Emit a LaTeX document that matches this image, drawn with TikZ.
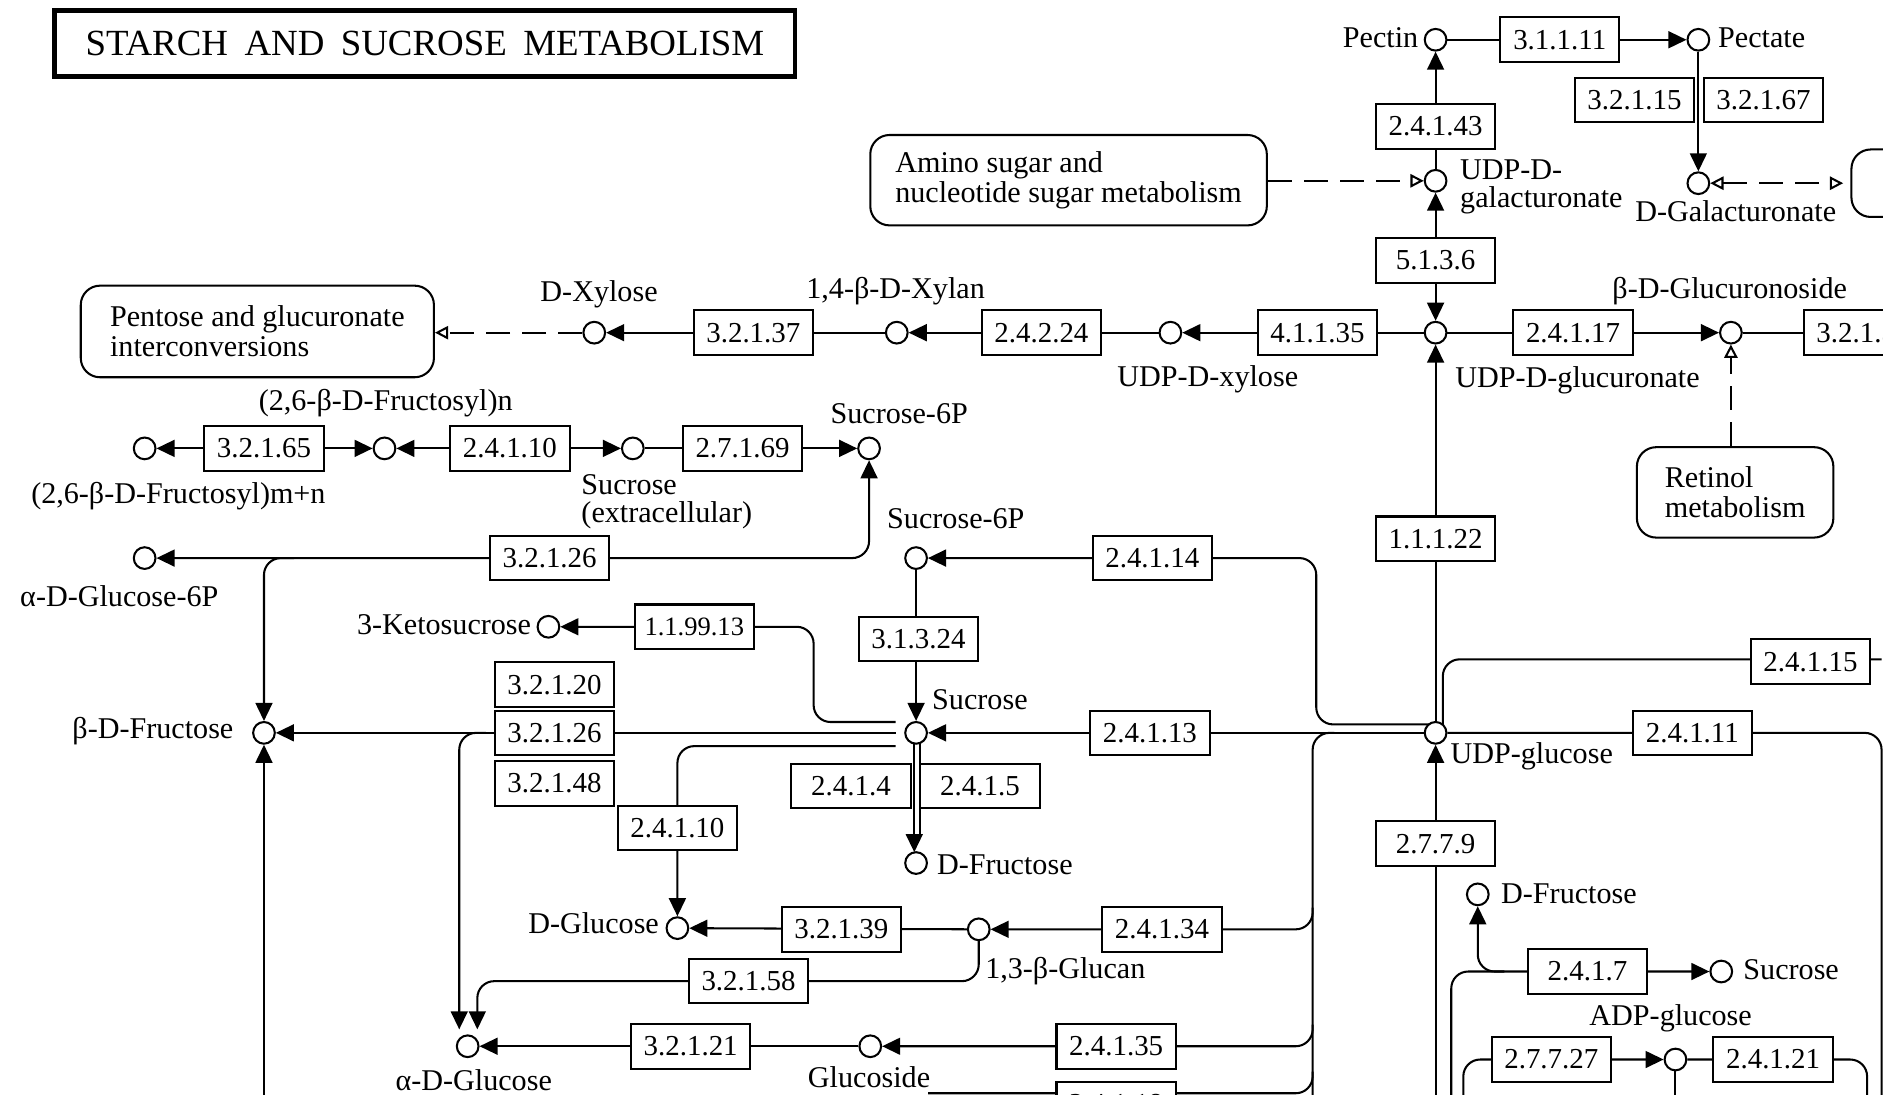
\documentclass[tikz,border=0pt]{standalone}
\usepackage{fontspec}
\setmainfont{Liberation Serif}
\usetikzlibrary{arrows.meta,calc}
\pgfdeclarelayer{bg}
\pgfsetlayers{bg,main}
\tikzset{
 ln/.style={line width=0.85pt},
 enz/.style={draw, line width=0.85pt, fill=white, minimum width=49.5pt, minimum height=18.5pt, inner sep=0pt, font=\fontsize{12}{12}\selectfont},
 cpd/.style={circle, draw, line width=0.85pt, fill=white, minimum size=9pt, inner sep=0pt},
 lbl/.style={inner sep=0pt, font=\fontsize{12.5}{11.5}\selectfont, text height=9pt, text depth=2.5pt},
 mlbl/.style={inner sep=0pt, font=\fontsize{12.5}{11.5}\selectfont, align=left},
 pmap/.style={draw, line width=0.85pt, fill=white, rounded corners=8pt, align=left, inner sep=0pt, font=\fontsize{12.5}{12.5}\selectfont},
 arr/.style={ln, -{Triangle[length=7.5pt,width=7pt]}},
 arrtwo/.style={ln, {Triangle[length=7.5pt,width=7pt]}-{Triangle[length=7.5pt,width=7pt]}},
 darr/.style={ln, dash pattern=on 10pt off 5pt, -{Triangle[open,length=5.5pt,width=5.5pt]}},
 darrtwo/.style={ln, dash pattern=on 10pt off 5pt, {Triangle[open,length=5.5pt,width=5.5pt]}-{Triangle[open,length=5.5pt,width=5.5pt]}},
 rc/.style={rounded corners=7pt},
}
\begin{document}
\begin{tikzpicture}[x=0.5pt,y=-0.5pt]
\useasboundingbox (0,0) rectangle (1568,908);
\begin{scope}
\clip (0,0) rectangle (1562,908);
% title
\node[draw, line width=2pt, minimum width=307pt, minimum height=27.5pt, inner sep=0pt, font=\fontsize{15.3}{15.3}\selectfont] (title) at (352.5,36) {STARCH\hspace{3pt} AND\hspace{3pt} SUCROSE\hspace{3pt} METABOLISM};
% pathway maps
\node[pmap, minimum width=146.5pt, minimum height=38pt] (pentose) at (213.5,275) {Pentose and glucuronate\\interconversions};
\node[pmap, minimum width=164.5pt, minimum height=37.5pt] (amino) at (886.5,149.5) {Amino sugar and\\nucleotide sugar metabolism};
\node[pmap, minimum width=81.5pt, minimum height=37.5pt] (retinol) at (1439.5,408.5) {Retinol\\metabolism};
\node[pmap, minimum width=42pt, minimum height=28pt] (rmap) at (1578,152) {};
% compounds
\node[cpd] (pectin) at (1191,33) {};
\node[cpd] (pectate) at (1409,33) {};
\node[cpd] (dgalac) at (1409,152) {};
\node[cpd] (udpgalac) at (1191,150) {};
\node[cpd] (udpgluc) at (1191,276) {};
\node[cpd] (udpxyl) at (971,276) {};
\node[cpd] (xylan) at (744,276) {};
\node[cpd] (dxylose) at (493,276) {};
\node[cpd] (glucur) at (1436,276) {};
\node[cpd] (fmn) at (120,372) {};
\node[cpd] (fn) at (319,372) {};
\node[cpd] (sucext) at (525,372) {};
\node[cpd] (sucsixa) at (721,372) {};
\node[cpd] (ag6p) at (120,463) {};
\node[cpd] (sucsixb) at (760,463) {};
\node[cpd] (keto) at (455,520) {};
\node[cpd] (sucr) at (760,608) {};
\node[cpd] (bfruc) at (219,608) {};
\node[cpd] (dfruca) at (760,716) {};
\node[cpd] (dgluc) at (562,770) {};
\node[cpd] (glucan) at (812,771) {};
\node[cpd] (aglc) at (388,868) {};
\node[cpd] (glucos) at (722,868) {};
\node[cpd] (udpglc) at (1191,608) {};
\node[cpd] (dfrucb) at (1226,742) {};
\node[cpd] (sucrb) at (1428,806) {};
\node[cpd] (adpglc) at (1390,879) {};
% enzymes
\node[enz] (e1) at (1294,33) {3.1.1.11};
\node[enz] (e2) at (1356,83) {3.2.1.15};
\node[enz] (e3) at (1463,83) {3.2.1.67};
\node[enz] (e4) at (1191,105) {2.4.1.43};
\node[enz] (e5) at (1191,216) {5.1.3.6};
\node[enz] (e6) at (1093,276) {4.1.1.35};
\node[enz] (e7) at (864,276) {2.4.2.24};
\node[enz] (e8) at (625,276) {3.2.1.37};
\node[enz] (e9) at (1305,276) {2.4.1.17};
\node[enz] (e10) at (1546,276) {3.2.1.31};
\node[enz] (e11) at (219,372) {3.2.1.65};
\node[enz] (e12) at (423,372) {2.4.1.10};
\node[enz] (e13) at (616,372) {2.7.1.69};
\node[enz] (e14) at (456,463) {3.2.1.26};
\node[enz] (e15) at (956,463) {2.4.1.14};
\node[enz, font=\fontsize{11}{11}\selectfont] (e16) at (576,520) {1.1.99.13};
\node[enz] (e17) at (762,530) {3.1.3.24};
\node[enz] (e18) at (460,568) {3.2.1.20};
\node[enz] (e19) at (460,608) {3.2.1.26};
\node[enz] (e20) at (460,650) {3.2.1.48};
\node[enz] (e21) at (706,652) {2.4.1.4};
\node[enz] (e22) at (813,652) {2.4.1.5};
\node[enz] (e23) at (562,687) {2.4.1.10};
\node[enz] (e24) at (954,608) {2.4.1.13};
\node[enz] (e25) at (1191,447) {1.1.1.22};
\node[enz] (e26) at (1502,549) {2.4.1.15};
\node[enz] (e27) at (1404,608) {2.4.1.11};
\node[enz] (e28) at (1191,700) {2.7.7.9};
\node[enz] (e29) at (1317,806) {2.4.1.7};
\node[enz] (e30) at (1287,879) {2.7.7.27};
\node[enz] (e31) at (1471,879) {2.4.1.21};
\node[enz] (e32) at (698,771) {3.2.1.39};
\node[enz] (e33) at (964,771) {2.4.1.34};
\node[enz] (e34) at (621,814) {3.2.1.58};
\node[enz] (e35) at (573,868) {3.2.1.21};
\node[enz] (e36) at (926,868) {2.4.1.35};
\node[enz] (e37) at (926,916) {2.4.1.18};
% labels
\node[lbl, anchor=east] (lpectin) at (1177,33) {Pectin};
\node[lbl, anchor=west] (lpectate) at (1425,33) {Pectate};
\node[lbl] (ldgalac) at (1440,177) {D-Galacturonate};
\node[mlbl, anchor=west] (ludpgalac) at (1211,155) {UDP-D-\\galacturonate};
\node[lbl, anchor=west] (ludpgluc) at (1207,315) {UDP-D-glucuronate};
\node[lbl] (ludpxyl) at (1002,314) {UDP-D-xylose};
\node[lbl] (lxylan) at (743,241) {1,4-β-D-Xylan};
\node[lbl] (ldxylose) at (497,244) {D-Xylose};
\node[lbl] (lglucur) at (1435,241) {β-D-Glucuronoside};
\node[lbl] (lfmn) at (148,411) {(2,6-β-D-Fructosyl)m+n};
\node[lbl] (lfn) at (320,334) {(2,6-β-D-Fructosyl)n};
\node[mlbl, anchor=west] (lsucext) at (482,416) {Sucrose\\(extracellular)};
\node[lbl] (lsucsixa) at (746,345) {Sucrose-6P};
\node[lbl] (lag6p) at (99,497) {α-D-Glucose-6P};
\node[lbl] (lsucsixb) at (793,432) {Sucrose-6P};
\node[lbl, anchor=east] (lketo) at (441,520) {3-Ketosucrose};
\node[lbl, anchor=west] (lsucr) at (773,582) {Sucrose};
\node[lbl, anchor=east] (lbfruc) at (194,606) {β-D-Fructose};
\node[lbl, anchor=west] (ldfruca) at (777,719) {D-Fructose};
\node[lbl, anchor=east] (ldgluc) at (547,768) {D-Glucose};
\node[lbl, anchor=west] (lglucan) at (817,805) {1,3-β-Glucan};
\node[lbl] (laglc) at (393,898) {α-D-Glucose};
\node[lbl] (lglucos) at (721,896) {Glucoside};
\node[lbl, anchor=west] (ludpglc) at (1203,627) {UDP-glucose};
\node[lbl, anchor=west] (ldfrucb) at (1245,743) {D-Fructose};
\node[lbl, anchor=west] (lsucrb) at (1446,806) {Sucrose};
\node[lbl] (ladpglc) at (1386,844) {ADP-glucose};
\end{scope}
% helper coordinates
\coordinate (bot) at (0,912);
\coordinate (bus) at (1089,0);
\coordinate (c14a) at (1092,601);
\coordinate (c14b) at (1092,463);
\coordinate (c16a) at (675,599);
\coordinate (c16b) at (675,520);
\coordinate (c19) at (381,608);
\coordinate (c23) at (562,619);
\coordinate (c34a) at (812,814);
\coordinate (c34b) at (396,814);
\coordinate (c37) at (1089,907);
\coordinate (c37b) at (770,907);
\coordinate (c26) at (1197,547);
\coordinate (c26b) at (1561,547);
\coordinate (c27) at (1561,608);
\coordinate (c29) at (1204,806);
\coordinate (c30) at (1214,879);
\coordinate (c31) at (1549,879);
\begin{pgfonlayer}{bg}
\draw[arr] (udpgalac) -- (pectin);
\draw[arr] (pectin) -- (pectate);
\draw[arr] (pectate) -- (dgalac);
\draw[darr] (amino.east |- udpgalac) -- (udpgalac);
\draw[darrtwo, shorten >=3pt] (dgalac) -- (rmap.west |- dgalac);
\draw[arrtwo] (udpgluc) -- (udpgalac);
\draw[arr] (udpgluc) -- (udpxyl);
\draw[arr] (udpxyl) -- (xylan);
\draw[arr] (xylan) -- (dxylose);
\draw[darr] (dxylose) -- (pentose.east |- dxylose);
\draw[arr] (udpgluc) -- (glucur);
\draw[ln] (glucur) -- (e10);
\draw[darr] (retinol.north -| glucur) -- (glucur);
\draw[arr] (udpglc) -- (udpgluc);
\draw[arrtwo] (fn) -- (fmn);
\draw[arrtwo] (sucext) -- (fn);
\draw[arr] (sucext) -- (sucsixa);
\draw[arrtwo, rc] (ag6p) -- (sucsixa |- ag6p) -- (sucsixa);
\draw[arr, rc] ($(bfruc |- ag6p)+(25,0)$) -- (bfruc |- ag6p) -- (bfruc);
\draw[arr, rc] ($(udpglc)+(-4,-7)$) -- (c14a) -- (c14b) -- (sucsixb);
\draw[arr] (sucsixb) -- (sucr);
\draw[arr] (udpglc) -- (sucr);
\draw[arr, rc] ($(sucr)+(-17,-9)$) -- (c16a) -- (c16b) -- (keto);
\draw[arr] ($(sucr)+(-17,0)$) -- (bfruc);
\draw[arr, rc] ($(c19)+(22,0)$) -- (c19) -- ($(aglc)+(-7,-14)$);
\draw[arr, rc] ($(sucr)+(-17,11)$) -- (c23) -- (dgluc);
\draw[arr] ($(sucr)+(-1.5,0)$) -- ($(dfruca)+(-1.5,-9)$);
\draw[ln] ($(sucr)+(3,0)$) -- ($(dfruca)+(3,-22)$);
\draw[arr] (bfruc |- bot) -- (bfruc);
\draw[arr] (glucan) -- (dgluc);
\draw[arr, rc] ($(bus |- glucan)+(0,-18)$) -- (bus |- glucan) -- (glucan);
\draw[arr, rc] ($(bus |- glucos)+(0,-18)$) -- (bus |- glucos) -- (glucos);
\draw[ln, rc] ($(c37)+(0,-18)$) -- (c37) -- (c37b);
\draw[ln, rc] ($(bus |- udpglc)+(18,0)$) -- (bus |- udpglc) -- (bus |- bot);
\draw[arr, rc] (glucan) -- (c34a) -- (c34b) -- ($(aglc)+(8,-14)$);
\draw[arr] (glucos) -- (aglc);
\draw[ln, rc] ($(udpglc)+(6,-6)$) -- (c26) -- (c26b);
\draw[ln, rc] (udpglc) -- (c27) -- (c27 |- bot);
\draw[arr] (udpglc |- bot) -- (udpglc);
\draw[arr, rc] (c29 |- bot) -- (c29) -- (sucrb);
\draw[arr, rc] ($(dfrucb |- c29)+(22,0)$) -- (dfrucb |- c29) -- (dfrucb);
\draw[arr, rc] (c30 |- bot) -- (c30) -- (adpglc);
\draw[ln, rc] (adpglc) -- (c31) -- (c31 |- bot);
\draw[ln] (adpglc) -- (adpglc |- bot);
\end{pgfonlayer}
\end{tikzpicture}
\end{document}
